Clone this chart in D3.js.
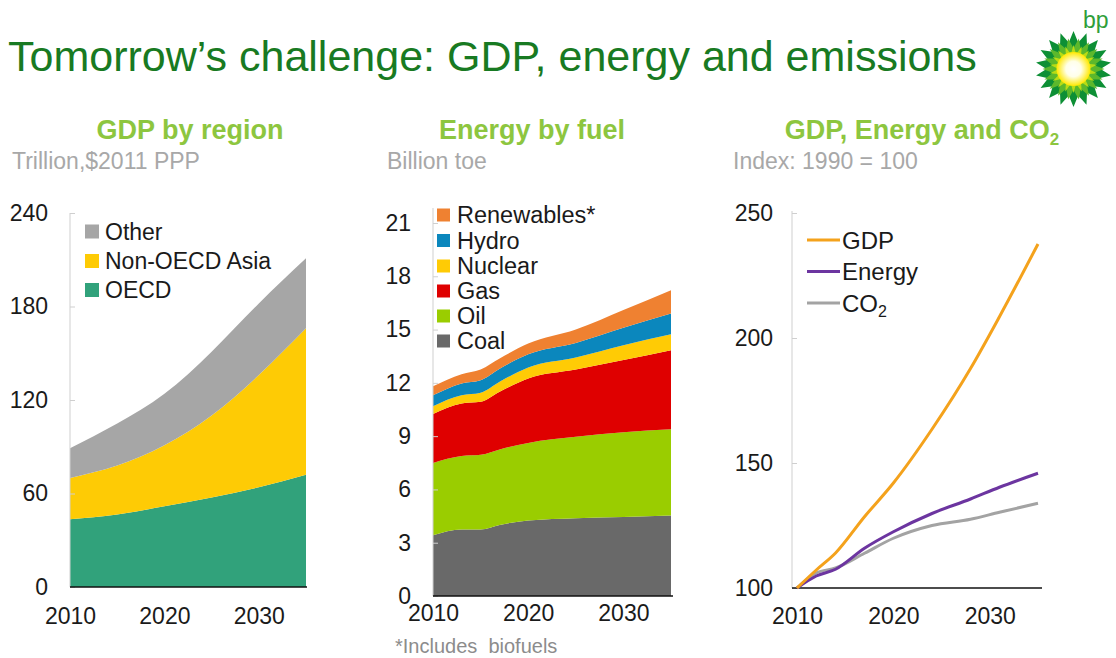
<!DOCTYPE html>
<html>
<head>
<meta charset="utf-8">
<script src="https://cdn.jsdelivr.net/npm/d3@7"></script>
<style>
  body { margin: 0; background: #fff; }
  svg { display: block; font-family: "Liberation Sans", Arial, Helvetica, sans-serif; }
</style>
</head>
<body>
<svg id="chart" width="1116" height="658"></svg>
<script>
// ---- GDP by region (trillion, $2011 PPP) ----
const gdpYears = [2010, 2015, 2020, 2025, 2030, 2035];
const gdpOECD = [43.5, 46.5, 51.8, 57.5, 64, 72];
const gdpNonOECDAsia = [26.5, 31.5, 39.2, 52.5, 72, 94];
const gdpOther = [19, 27, 33, 41, 46, 45];
const gdpTicks = [0, 60, 120, 180, 240];

// ---- Energy by fuel (billion toe) ----
const fuelYears = [2010, 2013, 2015, 2017, 2020, 2025, 2030, 2035];
const coal = [3.42, 3.75, 3.75, 4.0, 4.25, 4.38, 4.45, 4.53];
const oil = [4.07, 4.13, 4.2, 4.25, 4.37, 4.58, 4.77, 4.86];
const gas = [2.75, 2.96, 2.98, 3.25, 3.63, 3.79, 4.06, 4.45];
const nuclear = [0.45, 0.46, 0.51, 0.56, 0.62, 0.68, 0.84, 0.89];
const hydro = [0.61, 0.67, 0.71, 0.74, 0.74, 0.82, 0.98, 1.17];
const renewables = [0.51, 0.52, 0.6, 0.57, 0.6, 0.75, 1.0, 1.32];
const fuelTicks = [0, 3, 6, 9, 12, 15, 18, 21];

// ---- GDP, energy and CO2 index (1990 = 100) ----
const idxYears = [2010, 2012, 2014, 2017, 2020, 2024, 2028, 2031, 2035];
const idxGDP = [100, 107.2, 114, 128.5, 142, 163.5, 187.8, 208.5, 237.6];
const idxEnergy = [100, 104.8, 107.5, 115.9, 122.5, 129.8, 135.6, 140.3, 145.9];
const idxCO2 = [100, 106, 108, 113.9, 119.9, 125, 127.5, 130.3, 133.9];
const idxTicks = [100, 150, 200, 250];

const yearTicks = [2010, 2020, 2030];

const svg = d3.select("#chart");
const tickFont = 23;

// ---------- header ----------
svg.append("text")
  .attr("x", 8).attr("y", 71)
  .attr("font-size", 43).attr("fill", "#187a22")
  .text("Tomorrow\u2019s challenge: GDP, energy and emissions");

// subtitles
const subGreen = "#8dc63f";
function subtitle(cx, parts) {
  const t = svg.append("text")
    .attr("x", cx).attr("y", 139)
    .attr("text-anchor", "middle")
    .attr("font-size", 27).attr("font-weight", "bold")
    .attr("fill", subGreen);
  parts.forEach(p => {
    const s = t.append("tspan").text(p.t);
    if (p.sub) s.attr("font-size", 17).attr("dy", 6);
  });
}
subtitle(190, [{ t: "GDP by region" }]);
subtitle(532, [{ t: "Energy by fuel" }]);
subtitle(922, [{ t: "GDP, Energy and CO" }, { t: "2", sub: true }]);

// unit lines
[["Trillion,$2011 PPP", 12], ["Billion toe", 387], ["Index: 1990 = 100", 733]].forEach(([s, x]) => {
  svg.append("text").attr("x", x).attr("y", 169)
    .attr("font-size", 23).attr("fill", "#a8a8a8").text(s);
});

// ---------- logo ----------
const logo = svg.append("g").attr("transform", "translate(1073.5,69)");
function starPts(n, ro, ri, rot) {
  const pts = [];
  for (let i = 0; i < 2 * n; i++) {
    const a = rot + i * Math.PI / n - Math.PI / 2;
    const r = i % 2 === 0 ? ro : ri;
    pts.push([r * Math.cos(a), r * Math.sin(a)]);
  }
  return pts;
}
const closed = d3.line().curve(d3.curveLinearClosed);
logo.append("path").attr("d", closed(starPts(18, 38, 27, 0))).attr("fill", "#0d8f35");
logo.append("path").attr("d", closed(starPts(18, 31, 21, Math.PI / 18))).attr("fill", "#5cb82c");
logo.append("path").attr("d", closed(starPts(18, 24, 15, 0))).attr("fill", "#b9dc14");
const defs = svg.append("defs");
const rg = defs.append("radialGradient").attr("id", "sun");
rg.append("stop").attr("offset", "0%").attr("stop-color", "#ffffff");
rg.append("stop").attr("offset", "45%").attr("stop-color", "#ffffe8");
rg.append("stop").attr("offset", "100%").attr("stop-color", "#ffe800");
logo.append("circle").attr("r", 17).attr("fill", "url(#sun)");
svg.append("text").attr("x", 1083).attr("y", 28)
  .attr("font-size", 23).attr("fill", "#2f9e3a").text("bp");

// ---------- shared axis helpers ----------
function styleAxisText(g) {
  g.selectAll("text")
    .attr("font-size", tickFont)
    .attr("fill", "#1a1a1a")
    .attr("font-family", "'Liberation Sans', Arial, sans-serif");
}
function drawYAxis(x, y, ticks, axisX, pad, topY) {
  const g = svg.append("g").attr("transform", `translate(${axisX},0)`)
    .call(d3.axisLeft(y).tickValues(ticks).tickSize(-5).tickPadding(pad).tickSizeOuter(0));
  g.select(".domain").remove();
  g.selectAll(".tick line").attr("stroke", "#cfcfcf");
  styleAxisText(g);
  g.append("line")
    .attr("x1", 0).attr("x2", 0)
    .attr("y1", y.range()[0]).attr("y2", topY)
    .attr("stroke", "#cfcfcf").attr("stroke-width", 1);
  return g;
}
function drawXAxis(x, baseY, x0, x1, pad) {
  const g = svg.append("g").attr("transform", `translate(0,${baseY})`)
    .call(d3.axisBottom(x).tickValues(yearTicks).tickFormat(d3.format("d")).tickSize(0).tickPadding(pad));
  g.select(".domain").remove();
  styleAxisText(g);
  g.append("line").attr("x1", x0).attr("x2", x1).attr("y1", 0).attr("y2", 0)
    .attr("stroke", "#111").attr("stroke-width", 1.5);
  return g;
}
function squareLegend(items, sqX, sqSize, textX, fontSize) {
  items.forEach(it => {
    svg.append("rect")
      .attr("x", sqX).attr("y", it.cy - sqSize / 2)
      .attr("width", sqSize).attr("height", sqSize)
      .attr("fill", it.color);
    svg.append("text")
      .attr("x", textX).attr("y", it.cy).attr("dy", "0.36em")
      .attr("font-size", fontSize).attr("fill", "#1a1a1a")
      .text(it.label);
  });
}

// ---------- panel 1: GDP by region ----------
{
  const x = d3.scaleLinear().domain([2010, 2035]).range([70, 306]);
  const y = d3.scaleLinear().domain([0, 240]).range([587, 213]);
  const keys = ["OECD", "Non-OECD Asia", "Other"];
  const colors = { "OECD": "#31a27b", "Non-OECD Asia": "#fecb05", "Other": "#a6a6a6" };
  const rows = gdpYears.map((yr, i) => ({
    year: yr, "OECD": gdpOECD[i], "Non-OECD Asia": gdpNonOECDAsia[i], "Other": gdpOther[i]
  }));
  const series = d3.stack().keys(keys)(rows);
  const area = d3.area()
    .x(d => x(d.data.year)).y0(d => y(d[0])).y1(d => y(d[1]))
    .curve(d3.curveNatural);
  svg.append("g").selectAll("path").data(series).join("path")
    .attr("d", area).attr("fill", d => colors[d.key]);
  drawYAxis(x, y, gdpTicks, 70, 22, 213);
  drawXAxis(x, 587, 70, 307, 21);
  squareLegend([
    { label: "Other", color: colors["Other"], cy: 231.5 },
    { label: "Non-OECD Asia", color: colors["Non-OECD Asia"], cy: 261 },
    { label: "OECD", color: colors["OECD"], cy: 290 }
  ], 85, 14, 105, 23);
}

// ---------- panel 2: Energy by fuel ----------
{
  const x = d3.scaleLinear().domain([2010, 2035]).range([433, 671]);
  const y = d3.scaleLinear().domain([0, 21]).range([596, 223]);
  const keys = ["Coal", "Oil", "Gas", "Nuclear", "Hydro", "Renewables"];
  const colors = {
    "Coal": "#696969", "Oil": "#9acd00", "Gas": "#df0000",
    "Nuclear": "#ffcb05", "Hydro": "#0b87bd", "Renewables": "#ef8131"
  };
  const rows = fuelYears.map((yr, i) => ({
    year: yr, "Coal": coal[i], "Oil": oil[i], "Gas": gas[i],
    "Nuclear": nuclear[i], "Hydro": hydro[i], "Renewables": renewables[i]
  }));
  const series = d3.stack().keys(keys)(rows);
  const area = d3.area()
    .x(d => x(d.data.year)).y0(d => y(d[0])).y1(d => y(d[1]))
    .curve(d3.curveMonotoneX);
  svg.append("g").selectAll("path").data(series).join("path")
    .attr("d", area).attr("fill", d => colors[d.key]);
  drawYAxis(x, y, fuelTicks, 433, 22, 208);
  drawXAxis(x, 596, 433, 673, 9);
  squareLegend([
    { label: "Renewables*", color: colors["Renewables"], cy: 215 },
    { label: "Hydro", color: colors["Hydro"], cy: 240.5 },
    { label: "Nuclear", color: colors["Nuclear"], cy: 266 },
    { label: "Gas", color: colors["Gas"], cy: 291 },
    { label: "Oil", color: colors["Oil"], cy: 316 },
    { label: "Coal", color: colors["Coal"], cy: 341 }
  ], 437, 13, 457, 23.5);
  svg.append("text")
    .attr("x", 395).attr("y", 653)
    .attr("font-size", 20).attr("fill", "#8c8c8c")
    .style("white-space", "pre")
    .text("*Includes  biofuels");
}

// ---------- panel 3: GDP, energy and CO2 index ----------
{
  const x = d3.scaleLinear().domain([2010, 2035]).range([797, 1038]);
  const y = d3.scaleLinear().domain([100, 250]).range([588, 213]);
  const lines = [
    { key: "GDP", values: idxGDP, color: "#f4a21c" },
    { key: "Energy", values: idxEnergy, color: "#6c35a0" },
    { key: "CO2", values: idxCO2, color: "#a3a3a3" }
  ];
  drawYAxis(x, y, idxTicks, 792, 19, 211);
  drawXAxis(x, 588, 792, 1042, 20);
  const line = d3.line()
    .x((v, i) => x(idxYears[i])).y(v => y(v))
    .curve(d3.curveMonotoneX);
  // draw grey first so the coloured lines sit on top
  svg.append("g").selectAll("path").data(lines.slice().reverse()).join("path")
    .attr("d", d => line(d.values))
    .attr("fill", "none").attr("stroke", d => d.color)
    .attr("stroke-width", 3).attr("stroke-linejoin", "round");
  const legendRows = [240, 271.5, 303];
  lines.forEach((d, i) => {
    svg.append("line")
      .attr("x1", 807).attr("x2", 840)
      .attr("y1", legendRows[i]).attr("y2", legendRows[i])
      .attr("stroke", d.color).attr("stroke-width", 3);
    const t = svg.append("text")
      .attr("x", 842).attr("y", legendRows[i]).attr("dy", "0.36em")
      .attr("font-size", 24).attr("fill", "#1a1a1a");
    if (d.key === "CO2") {
      t.append("tspan").text("CO");
      t.append("tspan").text("2").attr("font-size", 16).attr("dy", 5);
    } else {
      t.text(d.key);
    }
  });
}
</script>
</body>
</html>
